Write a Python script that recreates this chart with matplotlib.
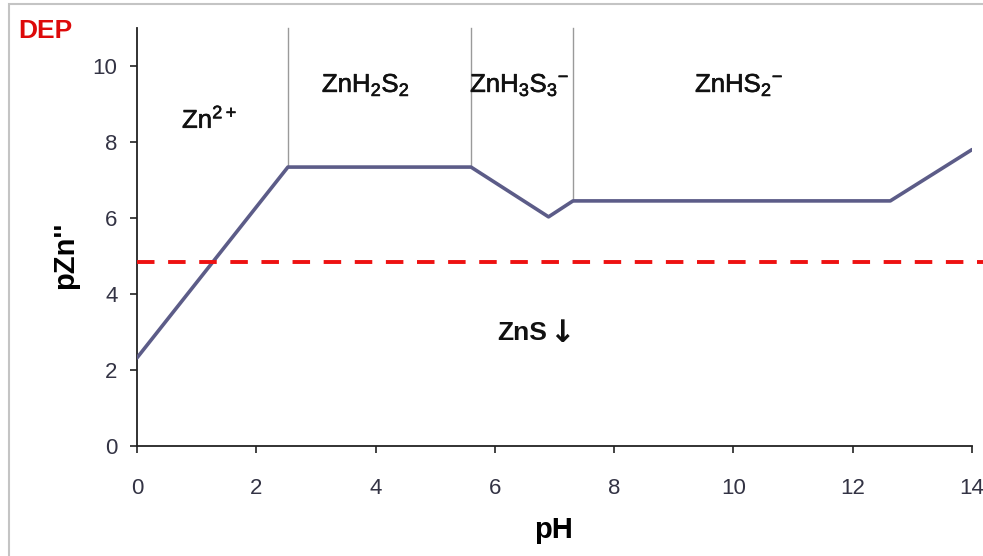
import matplotlib
matplotlib.use("Agg")
import matplotlib.pyplot as plt
from matplotlib.patches import Rectangle
import matplotlib.patheffects as pe
import matplotlib.transforms as mtransforms
import numpy as np

plt.rcParams['font.family'] = ['Liberation Sans', 'DejaVu Sans']
plt.rcParams['mathtext.default'] = 'regular'

# Data
ph_pts = [0, 2.53, 5.6, 6.9, 7.31, 12.63, 14]
pzn_pts = [2.32, 7.34, 7.34, 6.03, 6.45, 6.45, 7.8]
boundaries = [2.53, 5.6, 7.31]
dep_level = 4.84
species = ['Zn$^{2+}$', 'ZnH$_2$S$_2$', 'ZnH$_3$S$_3$$^{-}$', 'ZnHS$_2$$^{-}$']
species_ph = [1.22, 3.84, 6.42, 10.1]
species_pzn = [8.6, 9.5, 9.5, 9.5]
solid_label = 'ZnS'
solid_ph = 6.88
solid_pzn = 2.97
xticks = [0, 2, 4, 6, 8, 10, 12, 14]
yticks = [0, 2, 4, 6, 8, 10]

W, H = 983, 556
fig = plt.figure(figsize=(W/100, H/100), dpi=100)
ax = fig.add_axes([137/W, 1-446/H, (972-137)/W, (446-28)/H])

ax.set_xlim(0, 14)
ax.set_ylim(0, 11)

for b in boundaries:
    yb = np.interp(b, ph_pts, pzn_pts)
    ax.plot([b, b], [yb, 11], color='#9a9a9a', lw=1.0, clip_on=False, zorder=2)

ax.plot(ph_pts, pzn_pts, color='#5c5c88', lw=2.6, zorder=3, solid_capstyle='round')

ax.plot([0, 14.25], [dep_level, dep_level], color='#ee1111', lw=2.8,
        dashes=(4.5, 3.5), clip_on=False, zorder=4)

thick = [pe.withStroke(linewidth=0.45, foreground='#111111')]
for lab, x, y in zip(species, species_ph, species_pzn):
    ax.text(x, y, lab, ha='center', va='center', fontsize=18.5, color='#111111',
            path_effects=thick)

ax.text(solid_ph, solid_pzn, solid_label, ha='right', va='center', fontsize=19,
        fontweight='bold', color='#111111')
arrow_tr = mtransforms.offset_copy(ax.transData, fig=fig, x=1, y=0, units='points')
ax.text(solid_ph, solid_pzn, '↓', ha='left', va='center', fontsize=22,
        fontweight='bold', color='#111111', family='DejaVu Sans', transform=arrow_tr)

ax.set_xticks(xticks)
ax.set_yticks(yticks)
ax.tick_params(direction='out', length=5, width=1.2, colors='#222222',
               labelsize=16, labelcolor='#333344')
ax.tick_params(axis='x', pad=18)
ax.tick_params(axis='y', pad=9)
for s in ['top', 'right']:
    ax.spines[s].set_visible(False)
for s in ['left', 'bottom']:
    ax.spines[s].set_linewidth(1.3)
    ax.spines[s].set_color('#222222')

fig.text(65/W, 1-255/H, "pZn''", rotation=90, ha='center', va='center',
         fontsize=21, fontweight='bold')
fig.text(554/W, 1-530/H, 'pH', ha='center', va='center',
         fontsize=21, fontweight='bold')
fig.text(18/W, 1-31/H, 'DEP', ha='left', va='center', fontsize=19,
         fontweight='bold', color='#dd0a0a')

fig.patches.append(Rectangle((9/W, -0.05), 1.1, 1.05-4/H, transform=fig.transFigure,
                             fill=False, edgecolor='#c4c4c4', lw=1.5))

fig.savefig('out.png', dpi=100)
